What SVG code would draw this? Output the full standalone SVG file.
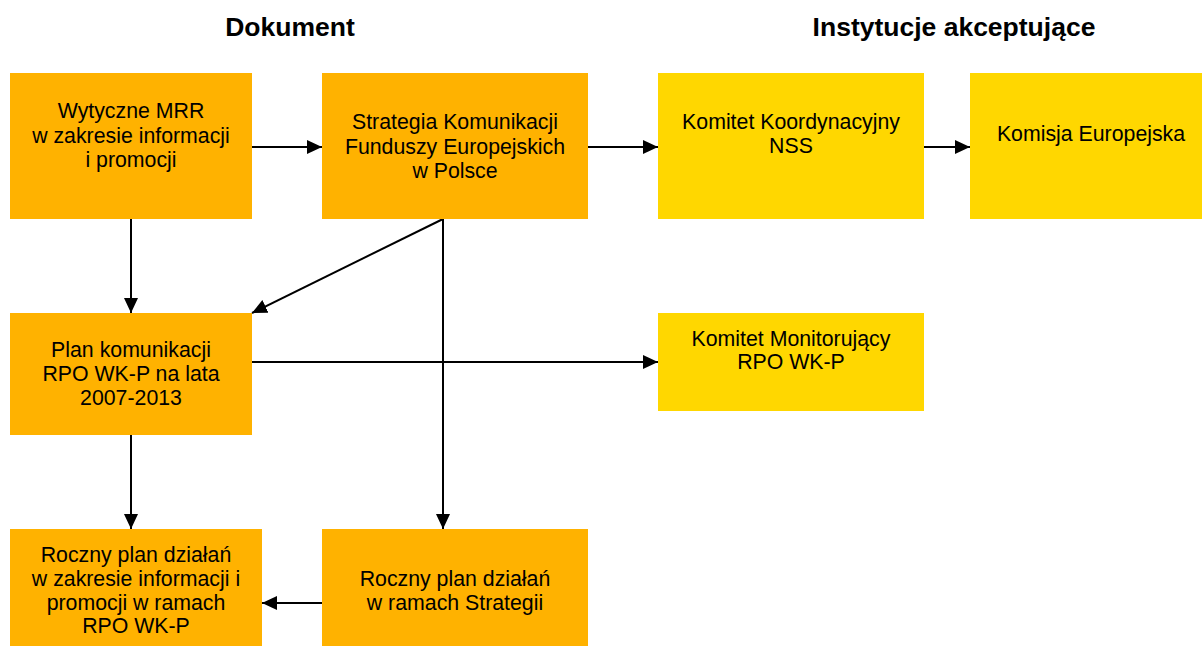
<svg xmlns="http://www.w3.org/2000/svg" width="1202" height="646" viewBox="0 0 1202 646">
<style>
.doc{fill:#FFB200;}
.inst{fill:#FFD700;}
.t{font-family:"Liberation Sans",Arial,sans-serif;font-size:21.3px;fill:#000;text-anchor:middle;}
.h{font-family:"Liberation Sans",Arial,sans-serif;font-size:26.5px;font-weight:bold;fill:#000;text-anchor:middle;}
.c{stroke:#000;stroke-width:2;fill:none;marker-end:url(#ah);}
</style>
<defs>
<marker id="ah" markerUnits="userSpaceOnUse" markerWidth="16" markerHeight="15" refX="15" refY="7" orient="auto" viewBox="0 0 16 15">
<path d="M0,0 L15,7 L0,14 z" fill="#000"/>
</marker>
</defs>
<rect width="1202" height="646" fill="#fff"/>
<g id="headers">
<text class="h" x="290" y="36">Dokument</text>
<text class="h" x="954" y="36">Instytucje akceptujące</text>
</g>
<g id="connectors">
<line class="c" x1="252" y1="147" x2="322" y2="147"/>
<line class="c" x1="588" y1="147" x2="658" y2="147"/>
<line class="c" x1="924" y1="147" x2="970" y2="147"/>
<line class="c" x1="131" y1="219" x2="131" y2="313"/>
<line class="c" x1="443" y1="219" x2="252" y2="313"/>
<line class="c" x1="443" y1="219" x2="443" y2="529"/>
<line class="c" x1="252" y1="362" x2="658" y2="362"/>
<line class="c" x1="131" y1="435" x2="131" y2="529"/>
<line class="c" x1="322" y1="603" x2="262" y2="603"/>
</g>
<g id="wytyczne">
<rect class="doc" x="10" y="73" width="242" height="146"/>
<text class="t" x="131" y="118">Wytyczne MRR</text>
<text class="t" x="131" y="142.5">w zakresie informacji</text>
<text class="t" x="131" y="167">i promocji</text>
</g>
<g id="strategia">
<rect class="doc" x="322" y="73" width="266" height="146"/>
<text class="t" x="455" y="129">Strategia Komunikacji</text>
<text class="t" x="455" y="153.5">Funduszy Europejskich</text>
<text class="t" x="455" y="178">w Polsce</text>
</g>
<g id="komitet-koordynacyjny">
<rect class="inst" x="658" y="73" width="266" height="146"/>
<text class="t" x="791" y="129">Komitet Koordynacyjny</text>
<text class="t" x="791" y="153">NSS</text>
</g>
<g id="komisja">
<rect class="inst" x="970" y="73" width="242" height="146"/>
<text class="t" x="1091" y="141">Komisja Europejska</text>
</g>
<g id="plan">
<rect class="doc" x="10" y="313" width="242" height="122"/>
<text class="t" x="131" y="357">Plan komunikacji</text>
<text class="t" x="131" y="381">RPO WK-P na lata</text>
<text class="t" x="131" y="405">2007-2013</text>
</g>
<g id="komitet-monitorujacy">
<rect class="inst" x="658" y="313" width="266" height="98"/>
<text class="t" x="791" y="346">Komitet Monitorujący</text>
<text class="t" x="791" y="369">RPO WK-P</text>
</g>
<g id="roczny-rpo">
<rect class="doc" x="10" y="529" width="252" height="117"/>
<text class="t" x="136" y="562">Roczny plan działań</text>
<text class="t" x="136" y="586">w zakresie informacji i</text>
<text class="t" x="136" y="609.5">promocji w ramach</text>
<text class="t" x="136" y="633">RPO WK-P</text>
</g>
<g id="roczny-strategia">
<rect class="doc" x="322" y="529" width="266" height="117"/>
<text class="t" x="455" y="586">Roczny plan działań</text>
<text class="t" x="455" y="609.5">w ramach Strategii</text>
</g>
</svg>
